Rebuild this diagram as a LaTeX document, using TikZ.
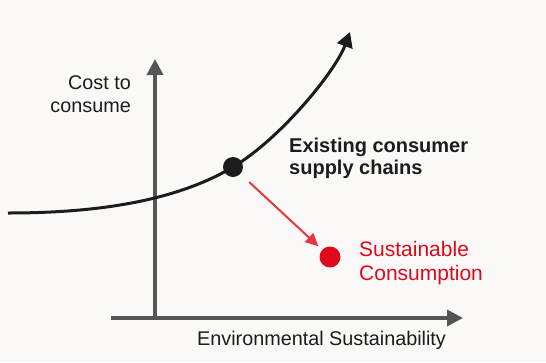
\documentclass[tikz,border=0pt]{standalone}
\usepackage{fontspec}
\setmainfont{Liberation Sans}
\usetikzlibrary{arrows.meta}
\definecolor{paper}{HTML}{FBF9F8}
\definecolor{axisgray}{HTML}{555555}
\definecolor{ink}{HTML}{1C1C1C}
\definecolor{sred}{HTML}{DE0A1C}
\definecolor{arrowred}{HTML}{E4373F}

\begin{document}
\begin{tikzpicture}[x=1pt, y=-1pt,
    txt/.style={inner sep=0pt, text=ink, font=\fontsize{19.8}{23}\selectfont},
    dot/.style={circle, inner sep=0pt, minimum size=20pt},
    axis/.style={draw=axisgray, line width=3.5pt, -{Triangle[length=16pt,width=16pt]}},
    curve/.style={draw=ink, line width=3pt, -{Triangle[length=15pt,width=16pt]}},
    movearrow/.style={draw=arrowred, line width=2pt, -{Triangle[length=13pt,width=12pt]}}]
    \fill[paper] (0,0) rectangle (546,362);
    \coordinate (xstart) at (111,318);
    \coordinate (xend) at (463,318);
    \coordinate (ystart) at (155,318);
    \coordinate (yend) at (155,59);
    \draw[axis] (xstart) -- (xend);
    \draw[axis] (ystart) -- (yend);
    \node[dot, fill=ink] (existing) at (233,167) {};
    \node[dot, fill=sred, minimum size=21pt] (sustainable) at (330,257) {};
    \coordinate (curvestart) at (8,213);
    \coordinate (curveend) at (350,32);
    \draw[curve] (curvestart) .. controls (90,213) and (173,203) .. (existing.center)
        .. controls (280,139) and (335,72) .. (curveend);
    \draw[movearrow, shorten <=12pt, shorten >=5pt] (existing) -- (sustainable);
    \node[txt, anchor=north east, align=right] (costlabel) at (131,75.5) {Cost to\\consume};
    \node[txt, anchor=north west, align=left, font=\fontsize{20}{22}\selectfont\bfseries] (chainlabel) at (289,137.5) {Existing consumer\\supply chains};
    \node[txt, anchor=north west, align=left, text=sred, font=\fontsize{21}{24}\selectfont] (sustlabel) at (359,241.5) {Sustainable\\Consumption};
    \node[txt, anchor=base west] (xlabel) at (197,345) {Environmental Sustainability};
\end{tikzpicture}
\end{document}
